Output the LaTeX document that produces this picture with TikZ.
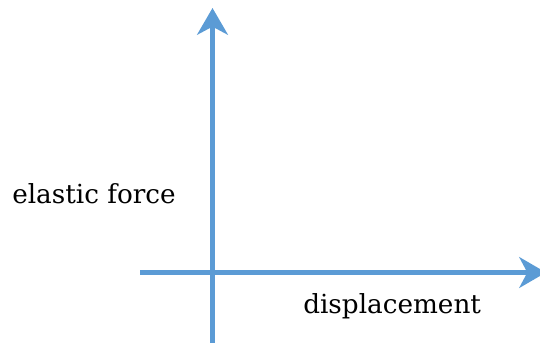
\documentclass[tikz,border=0pt]{standalone}
\usepackage{fontspec}
\setmainfont{DejaVu Serif}
\usepackage{xcolor}
\usetikzlibrary{arrows.meta,positioning}
\definecolor{axisblue}{HTML}{5B9BD5}

\begin{document}
\begin{tikzpicture}[x=0.75pt, y=-0.75pt, >={Stealth[length=20pt, width=23pt, inset=6pt]}]
  \useasboundingbox (0,0) rectangle (540,343);
  \coordinate (Ybot) at (212.5,343);
  \coordinate (Ytop) at (212.5,8);
  \coordinate (Xleft) at (140,272.5);
  \coordinate (Xright) at (546,272.5);
  \draw[->, axisblue, line width=4pt] (Ybot) -- (Ytop);
  \draw[->, axisblue, line width=4pt] (Xleft) -- (Xright);
  \node[anchor=base west, inner sep=0pt, font=\fontsize{19.7pt}{24pt}\selectfont] (force) at (12,203) {elastic force};
  \node[anchor=base west, inner sep=0pt, font=\fontsize{19.7pt}{24pt}\selectfont] (disp) at (303,313) {displacement};
\end{tikzpicture}
\end{document}
